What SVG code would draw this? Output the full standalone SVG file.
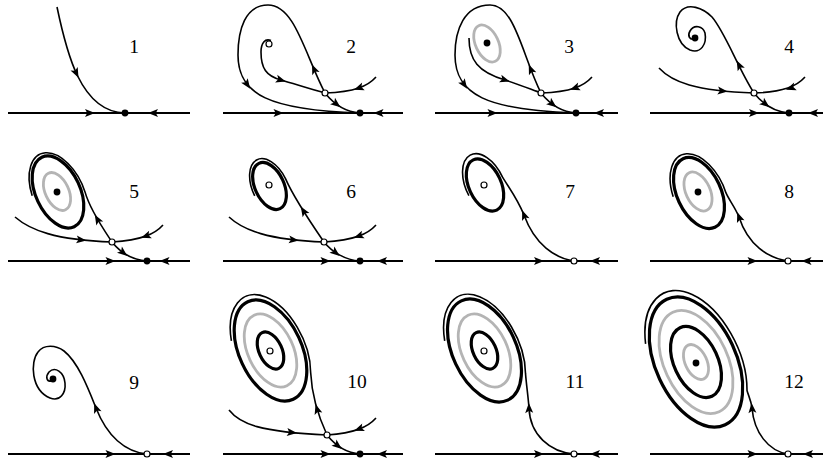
<svg xmlns="http://www.w3.org/2000/svg" xmlns:xlink="http://www.w3.org/1999/xlink" width="823" height="462" viewBox="0 0 823 462">
<style>
.ax{fill:none;stroke:#000;stroke-width:2}
.tr{fill:none;stroke:#000;stroke-width:1.6}
.lc{fill:none;stroke:#000;stroke-width:3.2}
.gc{fill:none;stroke:#b4b4b4;stroke-width:2.8}
.dot{fill:#000}
.op{fill:#fff;stroke:#000;stroke-width:1.2}
.lbl{font-family:"Liberation Serif","DejaVu Serif",serif;font-size:19.5px;text-anchor:middle;fill:#000}
</style>
<defs>
<path id="a" d="M5,0 L-5,-4 L-2.8,0 L-5,4 Z" fill="#000"/>
</defs>
<rect width="823" height="462" fill="#fff"/>

<g id="panel-1">
<path class="ax" d="M8,113 H190"/>
<path class="tr" d="M57,7 C66,50 80,112 125,113"/>
<use href="#a" transform="translate(76.3 73.2) rotate(64)"/>
<use href="#a" transform="translate(90 113)"/>
<use href="#a" transform="translate(153 113) rotate(180)"/>
<circle class="dot" cx="125" cy="113" r="3.4"/>
<text class="lbl" x="134" y="53">1</text>
</g>

<g id="panel-2">
<path class="ax" d="M223,113 H403"/>
<path class="tr" d="M325,93 C305,55 295,5 268,5 C245,5 238,30 238,55 C238,95 270,110 360,113"/>
<path class="tr" d="M271,40.5 C265,38 261,43 261,52 C261,68 266,76 281,80 C295,84 310,89 325,93"/>
<path class="tr" d="M376,77 C368,86 355,92 325,93"/>
<path class="tr" d="M325,93 C333,103 345,112 360,113"/>
<use href="#a" transform="translate(314 69) rotate(-113)"/>
<use href="#a" transform="translate(247.3 84.6) rotate(55)"/>
<use href="#a" transform="translate(281 80) rotate(16)"/>
<use href="#a" transform="translate(358.7 88) rotate(161)"/>
<use href="#a" transform="translate(336.5 104.1) rotate(38)"/>
<use href="#a" transform="translate(278.5 113)"/>
<use href="#a" transform="translate(378.5 113) rotate(180)"/>
<circle class="dot" cx="360" cy="113" r="3.4"/>
<circle class="op" cx="325" cy="93" r="3"/>
<circle class="op" cx="269" cy="44" r="3"/>
<text class="lbl" x="351" y="53">2</text>
</g>

<g id="panel-3">
<path class="ax" d="M435,113 H618"/>
<ellipse class="gc" cx="487" cy="43.5" rx="11.4" ry="19.7" transform="rotate(-25 487 43.5)"/>
<path class="tr" d="M541,93 C522,55 515,5 490,5 C464,5 455,30 455,55 C455,95 487,110 576,113"/>
<path class="tr" d="M469,38 C469,60 478,72 505,80 C520,85 530,89 541,93"/>
<path class="tr" d="M592,77 C584,86 571,92 541,93"/>
<path class="tr" d="M541,93 C549,103 561,112 576,113"/>
<use href="#a" transform="translate(530.7 69.2) rotate(-113)"/>
<use href="#a" transform="translate(464.3 84.6) rotate(55)"/>
<use href="#a" transform="translate(505 80) rotate(17)"/>
<use href="#a" transform="translate(574.7 88) rotate(161)"/>
<use href="#a" transform="translate(552.5 104.1) rotate(38)"/>
<use href="#a" transform="translate(492.5 113)"/>
<use href="#a" transform="translate(599 113) rotate(180)"/>
<circle class="dot" cx="487" cy="43" r="3.4"/>
<circle class="dot" cx="576" cy="113" r="3.4"/>
<circle class="op" cx="541" cy="93" r="3"/>
<text class="lbl" x="569" y="53">3</text>
</g>

<g id="panel-4">
<path class="ax" d="M650,113 H823"/>
<path class="tr" d="M754,93 C738,68 725,32 712,17 C703,8 688,2 680,12 C673,22 676,44 690,50 C701,54 707,44 705,33 C703,26 694,24 690,31 C687,36 690,40 694,39"/>
<path class="tr" d="M659,68 C672,82 695,91 754,93"/>
<path class="tr" d="M805,77 C797,86 784,92 754,93"/>
<path class="tr" d="M754,93 C762,103 774,112 789,113"/>
<use href="#a" transform="translate(739 65) rotate(-117)"/>
<use href="#a" transform="translate(722.7 91) rotate(6)"/>
<use href="#a" transform="translate(790.7 88) rotate(161)"/>
<use href="#a" transform="translate(765.5 104.1) rotate(38)"/>
<use href="#a" transform="translate(754 113)"/>
<use href="#a" transform="translate(813 113) rotate(180)"/>
<circle class="dot" cx="695" cy="38" r="3.4"/>
<circle class="dot" cx="789" cy="113" r="3.4"/>
<circle class="op" cx="754" cy="93" r="3"/>
<text class="lbl" x="789" y="53">4</text>
</g>

<g id="panel-5">
<path class="ax" d="M8,261 H190"/>
<ellipse class="gc" cx="57" cy="191.5" rx="11.7" ry="20.2" transform="rotate(-25 57 191.5)"/>
<ellipse class="lc" cx="58" cy="192" rx="22.2" ry="38.3" transform="rotate(-25 58 192)"/>
<path class="tr" d="M112,242 C104,230 90,210 85,191.9 A25.3 43.7 -25 1 0 32.2,195.7"/>
<path class="tr" d="M15,217 C30,230 55,240 112,242"/>
<path class="tr" d="M163,225 C155,234 142,240 112,242"/>
<path class="tr" d="M112,242 C120,252 132,260 147,261"/>
<use href="#a" transform="translate(97.3 219.2) rotate(-120)"/>
<use href="#a" transform="translate(81.4 239.9) rotate(6)"/>
<use href="#a" transform="translate(145.8 236.1) rotate(160)"/>
<use href="#a" transform="translate(123.4 252.8) rotate(38)"/>
<use href="#a" transform="translate(110.5 261)"/>
<use href="#a" transform="translate(164.5 261) rotate(180)"/>
<circle class="dot" cx="57" cy="192" r="3.4"/>
<circle class="dot" cx="147" cy="261" r="3.4"/>
<circle class="op" cx="112" cy="242" r="3"/>
<text class="lbl" x="134" y="198">5</text>
</g>

<g id="panel-6">
<path class="ax" d="M223,261 H403"/>
<ellipse class="lc" cx="269.5" cy="186" rx="14.5" ry="25" transform="rotate(-25 269.5 186)"/>
<path class="tr" d="M324,242 C313,226 293,196 285.5,178.6 A17.6 30.4 -25 1 0 254.7,195.8"/>
<path class="tr" d="M229,217 C243,230 268,240 324,242"/>
<path class="tr" d="M376,225 C368,234 355,240 324,242"/>
<path class="tr" d="M324,242 C332,252 345,260 360,261"/>
<use href="#a" transform="translate(303.4 210.8) rotate(-122)"/>
<use href="#a" transform="translate(293.9 239.9) rotate(6)"/>
<use href="#a" transform="translate(358.6 236.1) rotate(160)"/>
<use href="#a" transform="translate(335.8 252.8) rotate(38)"/>
<use href="#a" transform="translate(325.5 261)"/>
<use href="#a" transform="translate(382 261) rotate(180)"/>
<circle class="op" cx="269" cy="185" r="3"/>
<circle class="dot" cx="360" cy="261" r="3.4"/>
<circle class="op" cx="324" cy="242" r="3"/>
<text class="lbl" x="351" y="198">6</text>
</g>

<g id="panel-7">
<path class="ax" d="M435,261 H618"/>
<ellipse class="lc" cx="485" cy="185" rx="16.1" ry="27.7" transform="rotate(-25 485 185)"/>
<path class="tr" d="M574,261 C555,258 535,245 524,215 C517,198 509,188 502.4,176.9 A19.2 33 -25 1 0 468.9,195.7"/>
<use href="#a" transform="translate(524 215) rotate(-111)"/>
<use href="#a" transform="translate(539 261)"/>
<use href="#a" transform="translate(595 261) rotate(180)"/>
<circle class="op" cx="484" cy="185" r="3"/>
<circle class="op" cx="574" cy="261" r="3"/>
<text class="lbl" x="570" y="198">7</text>
</g>

<g id="panel-8">
<path class="ax" d="M650,261 H823"/>
<ellipse class="gc" cx="698" cy="191.5" rx="12.1" ry="20.8" transform="rotate(-25 698 191.5)"/>
<ellipse class="lc" cx="699" cy="193" rx="21.9" ry="37.8" transform="rotate(-25 699 193)"/>
<path class="tr" d="M788,261 C768,258 748,245 739,217 C735,207 729,200 726,192.9 A25.3 43.7 -25 1 0 673.2,196.7"/>
<use href="#a" transform="translate(739 217) rotate(-110)"/>
<use href="#a" transform="translate(752.5 261)"/>
<use href="#a" transform="translate(806.5 261) rotate(180)"/>
<circle class="dot" cx="698" cy="192" r="3.4"/>
<circle class="op" cx="788" cy="261" r="3"/>
<text class="lbl" x="789" y="198">8</text>
</g>

<g id="panel-9">
<path class="ax" d="M8,454 H190"/>
<path class="tr" d="M147,454 C125,452 107,436 96,408 C88,388 78,362 64,351 C56,345 44,344 38,352 C30,362 31,390 50,398 C60,402 66,393 65,383 C64,372 55,366 49,372 C45,377 47,382 51,381"/>
<use href="#a" transform="translate(96 408) rotate(-111)"/>
<use href="#a" transform="translate(110.5 454)"/>
<use href="#a" transform="translate(168 454) rotate(180)"/>
<circle class="dot" cx="53" cy="379" r="3.4"/>
<circle class="op" cx="147" cy="454" r="3"/>
<text class="lbl" x="134" y="389">9</text>
</g>

<g id="panel-10">
<path class="ax" d="M223,454 H403"/>
<ellipse class="lc" cx="270.5" cy="350.5" rx="11.4" ry="19.7" transform="rotate(-25 270.5 350.5)"/>
<ellipse class="gc" cx="270.5" cy="350.5" rx="22.6" ry="38.9" transform="rotate(-25 270.5 350.5)"/>
<ellipse class="lc" cx="270.5" cy="350.5" rx="31.2" ry="53.8" transform="rotate(-25 270.5 350.5)"/>
<path class="tr" d="M327,435 C321,422 312,400 310.7,373 A34.6 59.6 -25 1 0 231.4,340.9"/>
<path class="tr" d="M229,410 C240,424 260,432 327,435"/>
<path class="tr" d="M376,418 C368,427 355,433 327,435"/>
<path class="tr" d="M327,435 C335,445 346,453 360,454"/>
<use href="#a" transform="translate(317 409) rotate(-107)"/>
<use href="#a" transform="translate(292 432.6) rotate(6)"/>
<use href="#a" transform="translate(358.9 429) rotate(160)"/>
<use href="#a" transform="translate(337.9 445.8) rotate(38)"/>
<use href="#a" transform="translate(325.5 454)"/>
<use href="#a" transform="translate(382 454) rotate(180)"/>
<circle class="op" cx="270" cy="351" r="3"/>
<circle class="dot" cx="360" cy="454" r="3.4"/>
<circle class="op" cx="327" cy="435" r="3"/>
<text class="lbl" x="357" y="388">10</text>
</g>

<g id="panel-11">
<path class="ax" d="M435,454 H618"/>
<ellipse class="lc" cx="484.5" cy="350.5" rx="11.4" ry="19.7" transform="rotate(-25 484.5 350.5)"/>
<ellipse class="gc" cx="484.5" cy="350.5" rx="22.6" ry="38.9" transform="rotate(-25 484.5 350.5)"/>
<ellipse class="lc" cx="484.5" cy="350.5" rx="31.8" ry="54.8" transform="rotate(-25 484.5 350.5)"/>
<path class="tr" d="M574,454 C550,452 530,435 529,408 C528,395 526.5,386 525.5,373.4 A35.2 60.7 -25 1 0 444.7,340.8"/>
<use href="#a" transform="translate(529 408) rotate(-92)"/>
<use href="#a" transform="translate(539 454)"/>
<use href="#a" transform="translate(595 454) rotate(180)"/>
<circle class="op" cx="484" cy="351" r="3"/>
<circle class="op" cx="574" cy="454" r="3"/>
<text class="lbl" x="575" y="388">11</text>
</g>

<g id="panel-12">
<path class="ax" d="M650,454 H823"/>
<ellipse class="gc" cx="696" cy="362" rx="10.8" ry="18.6" transform="rotate(-25 696 362)"/>
<ellipse class="lc" cx="696" cy="362" rx="21.9" ry="37.8" transform="rotate(-25 696 362)"/>
<ellipse class="gc" cx="696" cy="362" rx="31.8" ry="54.8" transform="rotate(-25 696 362)"/>
<ellipse class="lc" cx="696" cy="362" rx="40.2" ry="69.2" transform="rotate(-25 696 362)"/>
<path class="tr" d="M788,454 C768,451 754,432 752,408 C751,400 748.5,396 747,390.5 A43.9 75.6 -25 1 0 645.6,343.8"/>
<use href="#a" transform="translate(752 408) rotate(-95)"/>
<use href="#a" transform="translate(752.5 454)"/>
<use href="#a" transform="translate(808 454) rotate(180)"/>
<circle class="dot" cx="696" cy="363" r="3.4"/>
<circle class="op" cx="788" cy="454" r="3"/>
<text class="lbl" x="794" y="388">12</text>
</g>
</svg>
